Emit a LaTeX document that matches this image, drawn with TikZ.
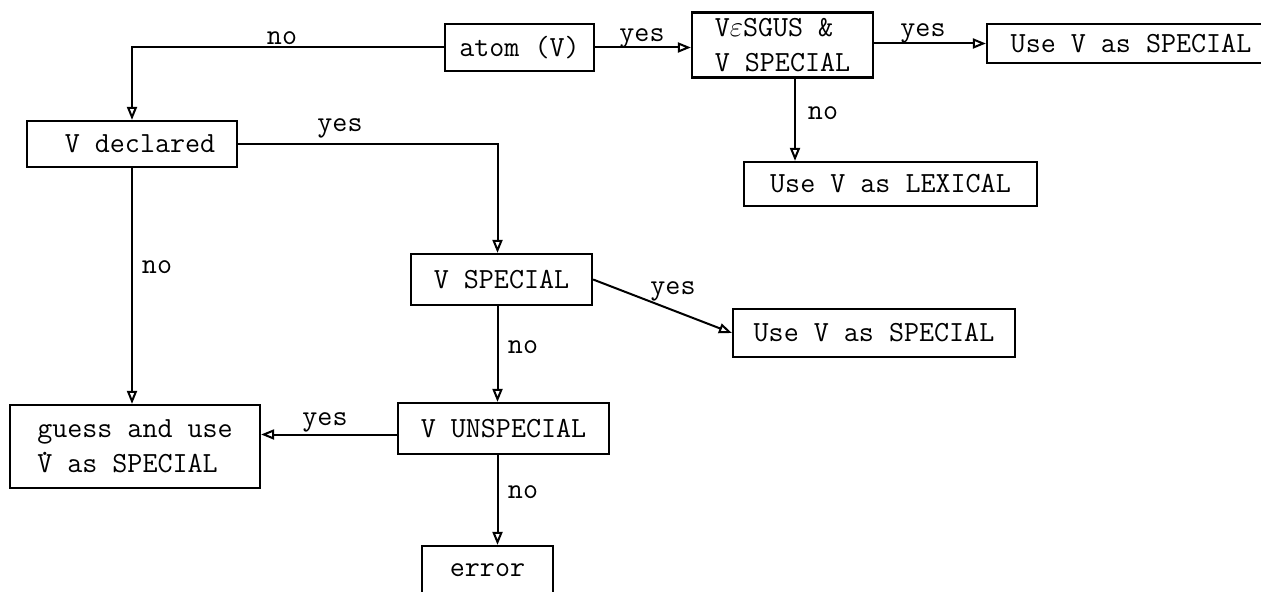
\documentclass[tikz,border=0pt]{standalone}
\usetikzlibrary{arrows.meta,calc}
\newcommand{\dotV}{\rlap{\raisebox{0.6em}[0pt][0pt]{.}}V}
\tikzset{
  x=0.5pt, y=-0.5pt,
  font=\fontsize{14.6}{17.5}\selectfont\ttfamily,
  boxnode/.style 2 args={draw, line width=1.1pt, inner sep=0pt,
     minimum width=#1*0.5pt, minimum height=#2*0.5pt, align=left},
  arr/.style={line width=1pt, -{Triangle[open, length=6.5pt, width=5pt, fill=white]}},
  lbl/.style={inner sep=0pt}
}
\begin{document}
\begin{tikzpicture}
\fill[white] (0,0) rectangle (1261,592);
\clip (0,0) rectangle (1261,592);
\useasboundingbox (0,0) rectangle (1261,592);

% nodes
\node[boxnode={149}{47}] (atom) at (519.5,47.5) {atom (V)};
\node[boxnode={181}{65}] (sgus) at (782.5,45) {V$\varepsilon$SGUS \&\\V SPECIAL};
\node[boxnode={288}{39}] (use1) at (1131,43.5) {Use V as SPECIAL};
\node[boxnode={293}{44}] (lex) at (890.5,184) {Use V as LEXICAL};
\node[boxnode={210}{46}] (decl) at (132,144) {\hspace{8pt}V declared};
\node[boxnode={181}{51}] (vsp) at (501.5,279.5) {V SPECIAL};
\node[boxnode={282}{48}] (use2) at (874,333) {Use V as SPECIAL};
\node[boxnode={211}{51}] (vuns) at (503.5,428.5) {V UNSPECIAL};
\node[boxnode={250}{83}] (guess) at (135,446.5) {guess and use\\\dotV{} as SPECIAL};
\node[boxnode={131}{48}] (err) at (487.5,570) {error};

% connectors
\draw[arr] (atom.west) -| (decl.north);
\draw[arr] (atom.east) -- (atom.east -| sgus.west);
\draw[arr] ([yshift=0.75pt]sgus.east) -- ([yshift=0.75pt]sgus.east -| use1.west);
\draw[arr] ([xshift=6.25pt]sgus.south) -- ([xshift=6.25pt]sgus.south |- lex.north);
\draw[arr] (decl.east) -| ([xshift=-2pt]vsp.north);
\draw[arr] (decl.south) -- (decl.south |- guess.north);
\draw[arr] (vsp.east) -- (use2.west);
\draw[arr] ([xshift=-2pt]vsp.south) -- ([xshift=-2pt]vsp.south |- vuns.north);
\draw[arr] ([yshift=-3pt]vuns.west) -- ([yshift=-3pt]vuns.west -| guess.east);
\draw[arr] ([xshift=-3pt]vuns.south) -- ([xshift=-3pt]vuns.south |- err.north);

% labels
\node[lbl] (l1) at (282,38) {no};
\node[lbl] (l2) at (642,38) {yes};
\node[lbl] (l3) at (923,33) {yes};
\node[lbl] (l4) at (823,113) {no};
\node[lbl] (l5) at (340,128) {yes};
\node[lbl] (l6) at (157,267) {no};
\node[lbl] (l7) at (673,291) {yes};
\node[lbl] (l8) at (523,347) {no};
\node[lbl] (l9) at (325,422) {yes};
\node[lbl] (l10) at (523,492) {no};
\end{tikzpicture}
\end{document}
